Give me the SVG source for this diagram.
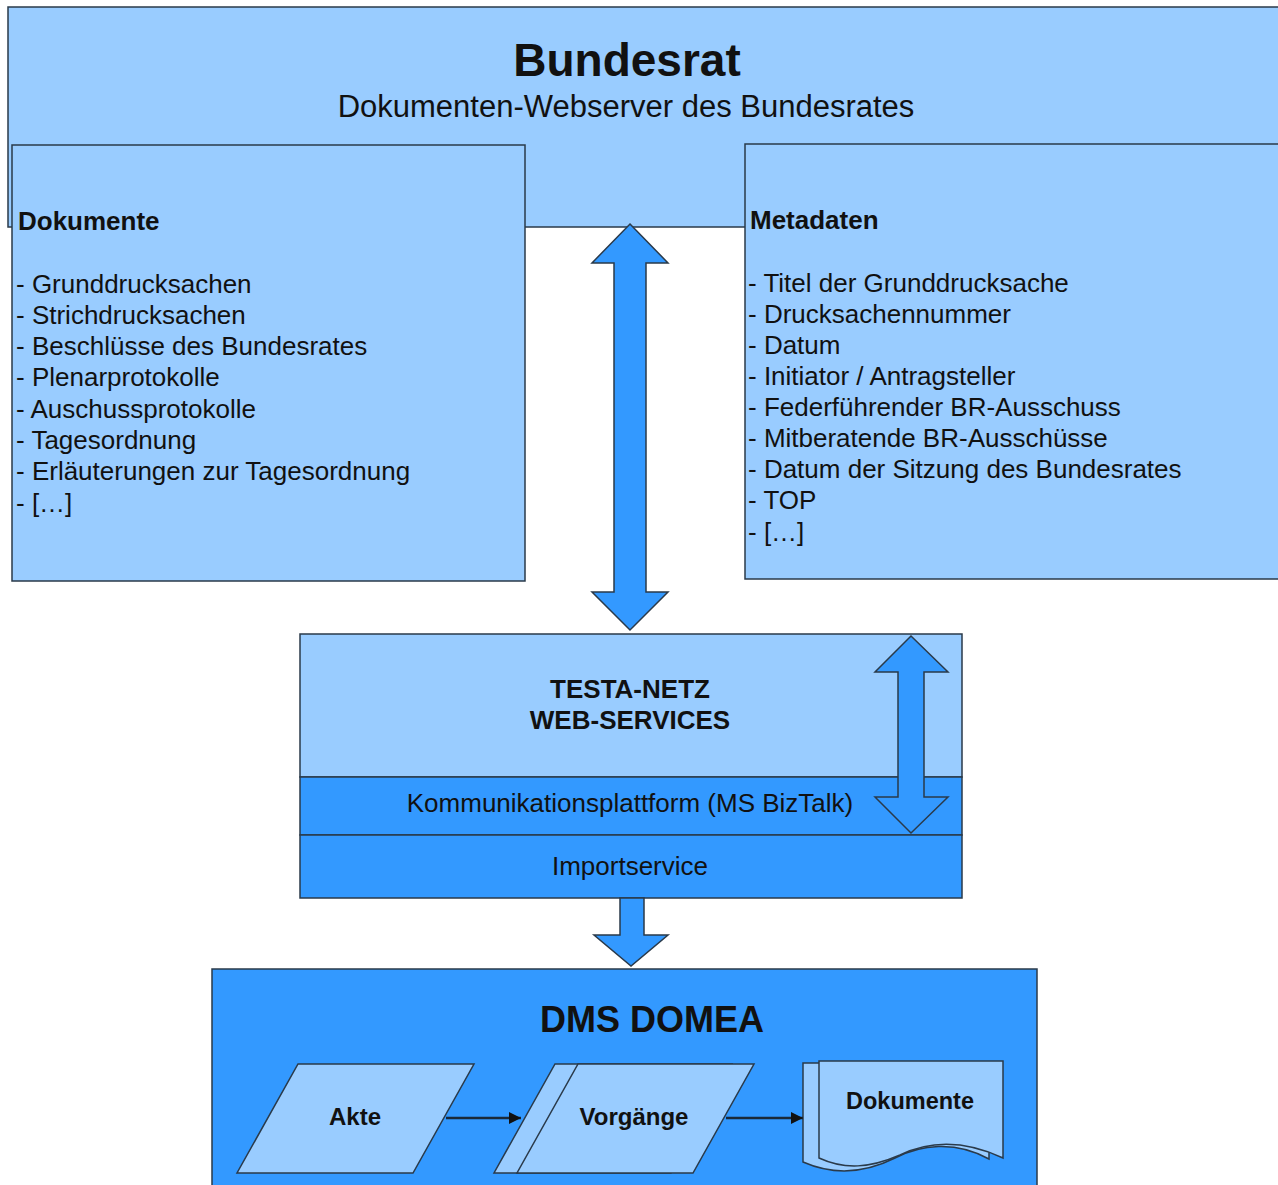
<svg xmlns="http://www.w3.org/2000/svg" width="1278" height="1185" viewBox="0 0 1278 1185">
<defs>
<style>
.lb{fill:#99ccff;stroke:#2a3a4a;stroke-width:1.5}
.db{fill:#3399ff;stroke:#2a3a4a;stroke-width:1.5}
.arr{fill:#3399ff;stroke:#2a3a4a;stroke-width:1.5;stroke-linejoin:miter}
text{font-family:"Liberation Sans",Arial,sans-serif;fill:#111}
.b{font-weight:bold}
.item{font-size:26px}
.line{stroke:#1a2a3a;stroke-width:2.5;fill:none}
</style>
<marker id="ah" viewBox="0 0 10 10" refX="10" refY="5" markerWidth="12" markerHeight="12" markerUnits="userSpaceOnUse" orient="auto">
<path d="M0,0 L10,5 L0,10 z" fill="#111"/>
</marker>
</defs>
<rect width="1278" height="1185" fill="#ffffff"/>

<g id="bundesrat">
<rect class="lb" x="8" y="7" width="1290" height="220"/>
<text class="b" x="627" y="76" font-size="46" text-anchor="middle">Bundesrat</text>
<text x="626" y="117" font-size="31" text-anchor="middle">Dokumenten-Webserver des Bundesrates</text>
</g>

<g id="dokumente-list">
<rect class="lb" x="12" y="145" width="513" height="436"/>
<text class="b" x="18" y="230" font-size="26">Dokumente</text>
<text class="item" x="16" y="293">- Grunddrucksachen</text>
<text class="item" x="16" y="324">- Strichdrucksachen</text>
<text class="item" x="16" y="355">- Beschlüsse des Bundesrates</text>
<text class="item" x="16" y="386">- Plenarprotokolle</text>
<text class="item" x="16" y="418">- Auschussprotokolle</text>
<text class="item" x="16" y="449">- Tagesordnung</text>
<text class="item" x="16" y="480">- Erläuterungen zur Tagesordnung</text>
<text class="item" x="16" y="512">- […]</text>
</g>

<g id="metadaten-list">
<rect class="lb" x="745" y="144" width="545" height="435"/>
<text class="b" x="750" y="229" font-size="26">Metadaten</text>
<text class="item" x="748" y="292">- Titel der Grunddrucksache</text>
<text class="item" x="748" y="323">- Drucksachennummer</text>
<text class="item" x="748" y="354">- Datum</text>
<text class="item" x="748" y="385">- Initiator / Antragsteller</text>
<text class="item" x="748" y="416">- Federführender BR-Ausschuss</text>
<text class="item" x="748" y="447">- Mitberatende BR-Ausschüsse</text>
<text class="item" x="748" y="478">- Datum der Sitzung des Bundesrates</text>
<text class="item" x="748" y="509">- TOP</text>
<text class="item" x="748" y="541">- […]</text>
</g>

<g id="testa">
<rect class="lb" x="300" y="634" width="662" height="143"/>
<rect class="db" x="300" y="777" width="662" height="58"/>
<rect class="db" x="300" y="835" width="662" height="63"/>
<text class="b" x="630" y="698" font-size="26" text-anchor="middle">TESTA-NETZ</text>
<text class="b" x="630" y="729" font-size="26" text-anchor="middle">WEB-SERVICES</text>
<text x="630" y="812" font-size="26" text-anchor="middle">Kommunikationsplattform (MS BizTalk)</text>
<text x="630" y="875" font-size="26" text-anchor="middle">Importservice</text>
</g>

<g id="dms">
<rect class="db" x="212" y="969" width="825" height="230"/>
<text class="b" x="652" y="1032" font-size="36" text-anchor="middle">DMS DOMEA</text>
</g>

<g id="akte">
<polygon class="lb" points="298,1064 474,1064 413,1173 237,1173"/>
<text class="b" x="355" y="1125" font-size="24" text-anchor="middle">Akte</text>
</g>

<g id="vorgaenge">
<polygon class="lb" points="555,1064 732,1064 671,1173 494,1173"/>
<polygon class="lb" points="578,1064 754,1064 693,1173 517,1173"/>
<text class="b" x="634" y="1125" font-size="24" text-anchor="middle">Vorgänge</text>
</g>

<g id="dokumente-doc">
<path class="lb" d="M803,1063 H989 V1159 C955,1140 920,1145 895,1158 C865,1173 835,1176 803,1162 Z"/>
<path class="lb" d="M819,1061 H1003 V1158 C960,1138 925,1143 900,1155 C870,1168 845,1170 819,1158 Z"/>
<text class="b" x="910" y="1109" font-size="23.5" text-anchor="middle">Dokumente</text>
</g>

<g id="connectors">
<polygon class="arr" points="630,224 668,263 646,263 646,592 668,592 630,630 592,592 614,592 614,263 592,263"/>
<polygon class="arr" points="911,636 948,672 924,672 924,797 948,797 911,833 875,797 898,797 898,672 875,672"/>
<polygon class="arr" points="620,898 644,898 644,935 668,935 631,966 594,935 620,935"/>
<line class="line" x1="446" y1="1118" x2="521" y2="1118" marker-end="url(#ah)"/>
<line class="line" x1="726" y1="1118" x2="803" y2="1118" marker-end="url(#ah)"/>
</g>
</svg>
